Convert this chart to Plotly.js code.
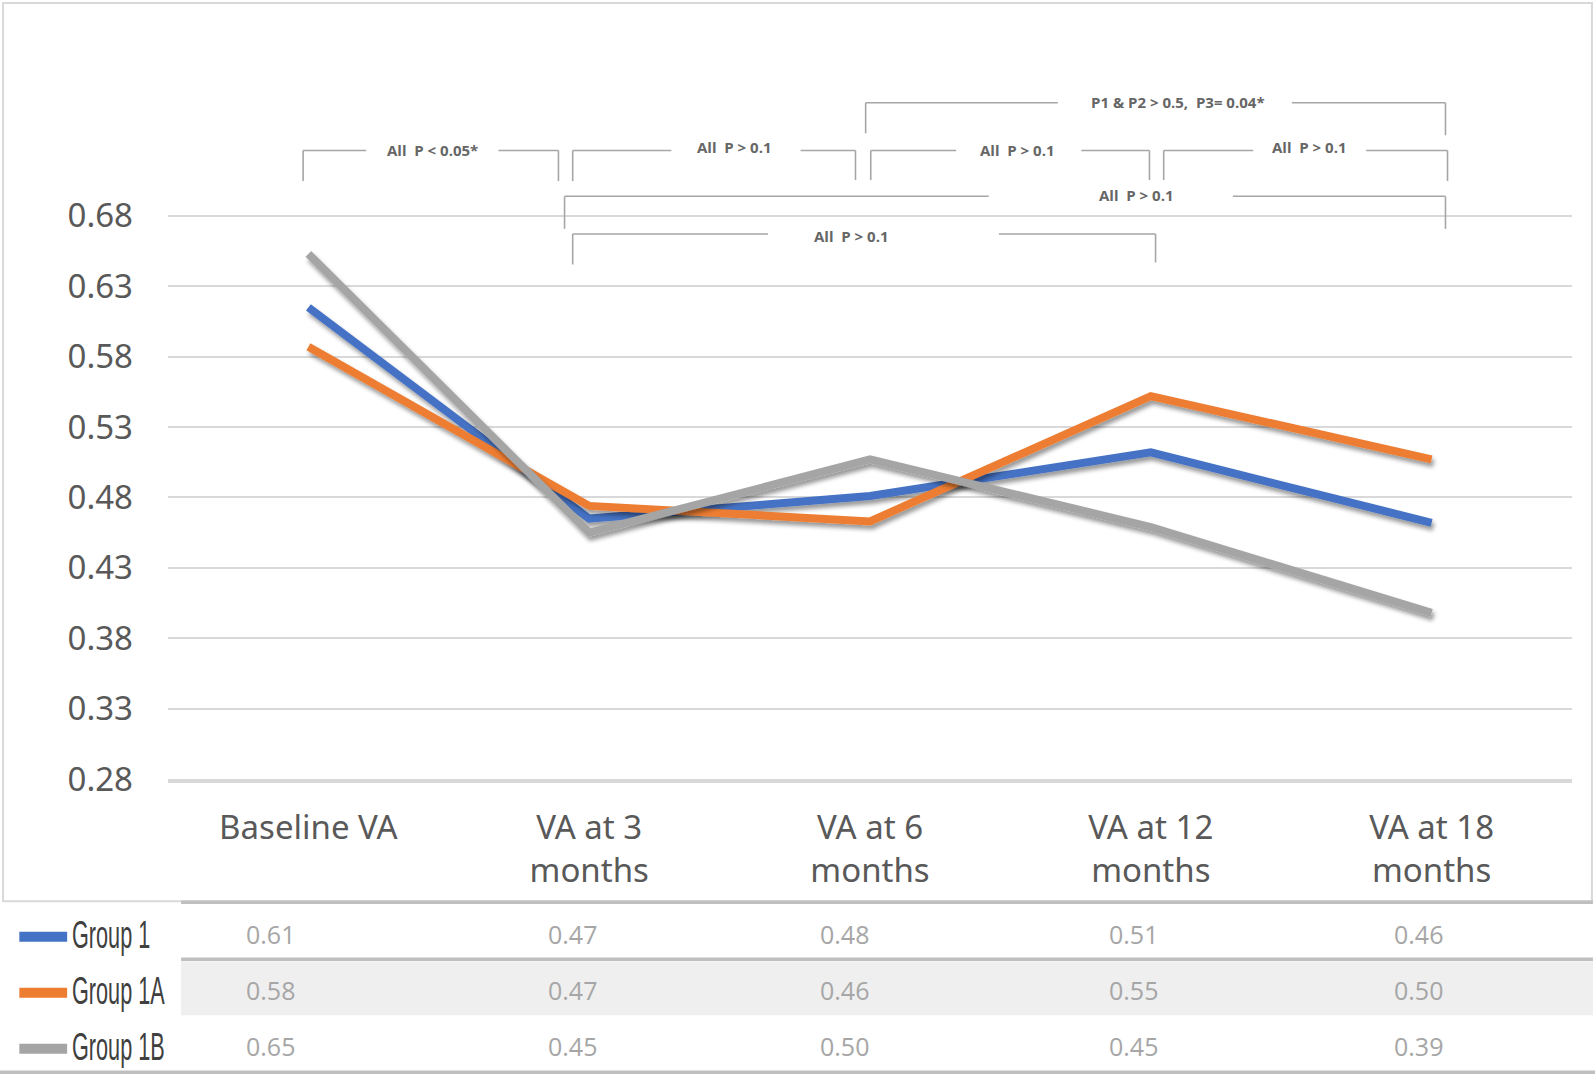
<!DOCTYPE html>
<html>
<head>
<meta charset="utf-8">
<script src="https://cdn.plot.ly/plotly-3.0.1.min.js"></script>
<style>
  html, body { margin: 0; padding: 0; background: #fff; }
  #chart { width: 1595px; height: 1077px; }
  .scatterlayer .trace { filter: url(#lineShadow); }
</style>
</head>
<body>
<svg width="0" height="0" style="position:absolute">
  <defs>
    <filter id="lineShadow" x="-10%" y="-10%" width="130%" height="140%">
      <feDropShadow dx="2" dy="4" stdDeviation="2" flood-color="#000" flood-opacity="0.4"/>
    </filter>
  </defs>
</svg>
<div id="chart"></div>
<script>
// ---------------- DATA ----------------
const categories = ['Baseline VA', 'VA at 3<br>months', 'VA at 6<br>months', 'VA at 12<br>months', 'VA at 18<br>months'];
const seriesNames = ['Group 1', 'Group 1A', 'Group 1B'];
const group1  = [0.615, 0.465, 0.481, 0.512, 0.462];
const group1A = [0.587, 0.474, 0.463, 0.552, 0.507];
const group1B = [0.653, 0.455, 0.507, 0.459, 0.398];
const tableGroup1  = ['0.61', '0.47', '0.48', '0.51', '0.46'];
const tableGroup1A = ['0.58', '0.47', '0.46', '0.55', '0.50'];
const tableGroup1B = ['0.65', '0.45', '0.50', '0.45', '0.39'];
const yTickVals = [0.28, 0.33, 0.38, 0.43, 0.48, 0.53, 0.58, 0.63, 0.68];
const yTickText = ['0.28', '0.33', '0.38', '0.43', '0.48', '0.53', '0.58', '0.63', '0.68'];
const bracketTexts = ['All&nbsp;&nbsp;P < 0.05*', 'All&nbsp;&nbsp;P > 0.1', 'P1 & P2 > 0.5,&nbsp;&nbsp;P3= 0.04*', 'All&nbsp;&nbsp;P > 0.1', 'All&nbsp;&nbsp;P > 0.1', 'All&nbsp;&nbsp;P > 0.1', 'All&nbsp;&nbsp;P > 0.1'];

// ---------------- STYLE / LAYOUT ----------------
const colors = ['#4472C4', '#ED7D31', '#A5A5A5'];
const W = 1595, H = 1077;
const L = 168, R = 1572, T = 47, B = 779;
const S = 1595 / 1568; // reference sketch scale
const PX = x => (x * S - L) / (R - L);
const PY = y => (B - y * S) / (B - T);

const series = [group1, group1A, group1B];
const tables = [tableGroup1, tableGroup1A, tableGroup1B];

const traces = series.map((vals, i) => ({
  type: 'scatter', mode: 'lines', name: seriesNames[i],
  x: categories, y: vals,
  line: { color: colors[i], width: 8, shape: 'linear' },
  hoverinfo: 'skip'
}));

const shapes = [];
const annotations = [];
const gray = '#a6a6a6';
function seg(x0, y0, x1, y1, color, width) {
  shapes.push({ type: 'line', xref: 'paper', yref: 'paper', x0: PX(x0), y0: PY(y0), x1: PX(x1), y1: PY(y1),
    line: { color: color || gray, width: width || 1.6 } });
}
// brackets: [x0, x1, y, yBottomLeft, yBottomRight, gap0, gap1, textX, textY]
const brackets = [
  [298, 549, 148, 178, 178, 360, 490, 425, 147],
  [563, 841, 148, 178, 177, 660, 787, 722, 145],
  [851, 1421, 101, 131, 133, 1040, 1270, 1158, 100],
  [856, 1130, 148, 177, 177, 940, 1063, 1000, 147],
  [1144, 1423, 148, 177, 178, 1232, 1343, 1287, 145],
  [555, 1421, 193, 225, 225, 972, 1212, 1117, 192],
  [563, 1136, 230, 260, 258, 755, 982, 837, 232]
];
brackets.forEach((b, i) => {
  const [x0, x1, y, yl, yr, g0, g1, tx, ty] = b;
  seg(x0, yl, x0, y);
  seg(x0, y, g0, y);
  seg(g1, y, x1, y);
  seg(x1, y, x1, yr);
  annotations.push({ xref: 'paper', yref: 'paper', x: PX(tx), y: PY(ty), text: '<b>' + bracketTexts[i] + '</b>',
    showarrow: false, xanchor: 'center', yanchor: 'middle',
    font: { family: 'Open Sans', size: 15, color: '#666666' } });
});

// outer frame
shapes.push({ type: 'rect', xref: 'paper', yref: 'paper', x0: PX(3), y0: PY(3), x1: PX(1565), y1: PY(886),
  line: { color: '#d9d9d9', width: 2 }, fillcolor: 'rgba(0,0,0,0)', layer: 'below' });
// table row 2 background
shapes.push({ type: 'rect', xref: 'paper', yref: 'paper', x0: PX(178), y0: PY(945), x1: PX(1566), y1: PY(998),
  line: { width: 0 }, fillcolor: '#efefef', layer: 'below' });
// table lines
seg(178, 887, 1566, 887, '#bfbfbf', 3.5);
seg(178, 943, 1566, 943, '#bfbfbf', 3.5);
seg(0, 1054, 1568, 1054, '#bfbfbf', 3.5);

// table values & legend
const colX = [266, 563, 830, 1114, 1394];
const rowY = [918, 973, 1028];
tables.forEach((row, r) => {
  row.forEach((t, c) => {
    annotations.push({ xref: 'paper', yref: 'paper', x: PX(colX[c]), y: PY(rowY[r]), text: t,
      showarrow: false, xanchor: 'center', yanchor: 'middle',
      font: { family: 'Open Sans', size: 25, color: '#a6a6a6' } });
  });
  shapes.push({ type: 'line', xref: 'paper', yref: 'paper', x0: PX(19), y0: PY(rowY[r] + 3), x1: PX(66), y1: PY(rowY[r] + 3),
    line: { color: colors[r], width: 10 } });
  annotations.push({ xref: 'paper', yref: 'paper', x: PX(69), y: PY(rowY[r] + 1), text: seriesNames[r],
    showarrow: false, xanchor: 'left', yanchor: 'middle',
    font: { family: 'Liberation Sans, Arial, sans-serif', size: 38, color: '#404040' } });
});

const layout = {
  width: W, height: H,
  margin: { l: L, r: W - R, t: T, b: H - B, pad: 0 },
  paper_bgcolor: '#ffffff', plot_bgcolor: '#ffffff',
  showlegend: false,
  font: { family: 'Noto Sans, Open Sans, sans-serif', color: '#595959' },
  xaxis: {
    type: 'category', range: [-0.5, 4.5], fixedrange: true,
    showgrid: false, zeroline: false,
    showline: true, linecolor: '#d9d9d9', linewidth: 4,
    ticks: '', ticklabelstandoff: 16,
    tickfont: { family: 'Noto Sans', size: 33, color: '#595959' }
  },
  yaxis: {
    range: [0.28, 0.80], fixedrange: true,
    tickvals: yTickVals, ticktext: yTickText,
    showgrid: true, gridcolor: '#d9d9d9', gridwidth: 2,
    zeroline: false, showline: false, ticks: '', ticklabelstandoff: 34,
    tickfont: { family: 'Noto Sans', size: 33, color: '#595959' }
  },
  shapes: shapes,
  annotations: annotations
};

Plotly.newPlot('chart', traces, layout, { staticPlot: true, displayModeBar: false }).then(gd => {
  // condense legend labels horizontally (narrow font look)
  const sx = 0.57;
  gd.querySelectorAll('.annotation').forEach(a => {
    const t = a.querySelector('text');
    if (!t || seriesNames.indexOf(t.textContent) < 0) return;
    const bb = t.getBBox();
    const x0 = bb.x;
    t.setAttribute('transform', 'matrix(' + sx + ',0,0,1,' + ((1 - sx) * x0) + ',0)');
  });
});
</script>
</body>
</html>
